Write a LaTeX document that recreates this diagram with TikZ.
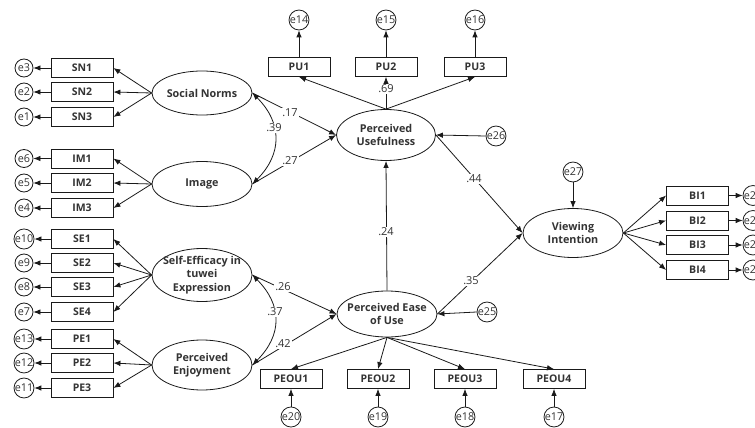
\documentclass[tikz,border=0pt]{standalone}
\usepackage{fontspec}
\setmainfont{Open Sans}
\usetikzlibrary{shapes.geometric,arrows.meta}
\definecolor{txt}{HTML}{333333}
\definecolor{ln}{HTML}{1A1A1A}
\begin{document}
\begin{tikzpicture}[x=1pt,y=-1pt,
  lat/.style={draw=ln, line width=0.8pt, ellipse, minimum width=100pt, minimum height=48pt, inner sep=0pt},
  lt/.style={inner sep=0pt, align=center, font=\fontsize{10.8}{13.2}\selectfont\bfseries, text=txt},
  obs/.style={draw=ln, line width=0.8pt, rectangle, minimum width=62pt, minimum height=19pt, inner sep=0pt, font=\fontsize{10.5}{12}\selectfont\bfseries, text=txt},
  err/.style={draw=ln, line width=0.8pt, circle, minimum size=18pt, inner sep=0pt, font=\fontsize{10.8}{11}\selectfont, text=txt},
  coef/.style={fill=white, inner sep=1pt, font=\fontsize{11}{12}\selectfont, text=txt},
  arr/.style={draw=ln, line width=0.8pt, -{Latex[length=7pt,width=5.5pt]}},
  dbl/.style={draw=ln, line width=0.8pt, {Latex[length=7pt,width=5.5pt]}-{Latex[length=7pt,width=5.5pt]}}
]
\useasboundingbox (0,0) rectangle (755,428);

% latent variables
\node[lat, minimum height=44pt] (sn) at (202,93) {};
\node[lt] (snt) at (sn) {Social Norms};
\node[lat, minimum height=45pt] (im) at (202,184) {};
\node[lt] (imt) at (im) {Image};
\node[lat, minimum height=53pt] (se) at (202,275) {};
\node[lt] (set) at (se) {Self-Efficacy in\\tuwei\\Expression};
\node[lat, minimum height=50pt] (pe) at (202,365) {};
\node[lt] (pet) at (pe) {Perceived\\Enjoyment};
\node[lat, minimum height=51pt, minimum width=99pt] (pu) at (386,135) {};
\node[lt] (put) at (pu) {Perceived\\Usefulness};
\node[lat, minimum height=46pt] (peou) at (387,314) {};
\node[lt] (peout) at (peou) {Perceived Ease\\of Use};
\node[lat, minimum height=49pt] (vi) at (573,233) {};
\node[lt] (vit) at (vi) {Viewing\\Intention};

% left indicators
\node[obs] (sn1) at (82,68) {SN1};
\node[obs] (sn2) at (82,92) {SN2};
\node[obs] (sn3) at (82,117) {SN3};
\node[obs] (im1) at (82,158.5) {IM1};
\node[obs] (im2) at (82,183) {IM2};
\node[obs] (im3) at (82,208) {IM3};
\node[obs] (se1) at (82,239) {SE1};
\node[obs] (se2) at (82,263) {SE2};
\node[obs] (se3) at (82,287) {SE3};
\node[obs] (se4) at (82,312) {SE4};
\node[obs] (pe1) at (82,339) {PE1};
\node[obs] (pe2) at (82,363) {PE2};
\node[obs] (pe3) at (82,388) {PE3};

\node[err] (e3) at (24,68) {e3};
\node[err] (e2) at (24,92) {e2};
\node[err] (e1) at (24,117) {e1};
\node[err] (e6) at (24,158.5) {e6};
\node[err] (e5) at (24,183) {e5};
\node[err] (e4) at (24,208) {e4};
\node[err] (e10) at (24,239) {e10};
\node[err] (e9) at (24,263) {e9};
\node[err] (e8) at (24,287) {e8};
\node[err] (e7) at (24,312) {e7};
\node[err] (e13) at (24,339) {e13};
\node[err] (e12) at (24,363) {e12};
\node[err] (e11) at (24,388) {e11};

% PU indicators
\node[obs] (pu1) at (299,67) {PU1};
\node[obs] (pu2) at (386,67) {PU2};
\node[obs] (pu3) at (475,67) {PU3};
\node[err] (e14) at (299,20) {e14};
\node[err] (e15) at (386,20) {e15};
\node[err] (e16) at (475,20) {e16};
\node[err] (e26) at (496,136) {e26};

% PEOU indicators
\node[obs] (peou1) at (291,379) {PEOU1};
\node[obs] (peou2) at (378,379) {PEOU2};
\node[obs] (peou3) at (465,379) {PEOU3};
\node[obs] (peou4) at (554,379) {PEOU4};
\node[err] (e20) at (291,417) {e20};
\node[err] (e19) at (378,417) {e19};
\node[err] (e18) at (465,417) {e18};
\node[err] (e17) at (554,417) {e17};
\node[err] (e25) at (487,312) {e25};

% VI indicators
\node[err] (e27) at (573,172) {e27};
\node[obs] (bi1) at (697.5,195.5) {BI1};
\node[obs] (bi2) at (697.5,220.5) {BI2};
\node[obs] (bi3) at (697.5,245) {BI3};
\node[obs] (bi4) at (697.5,270) {BI4};
\node[err] (e21) at (753,195.5) {e21};
\node[err] (e22) at (753,220.5) {e22};
\node[err] (e23) at (753,245) {e23};
\node[err] (e24) at (753,270) {e24};

% measurement arrows (left)
\foreach \l/\o/\e in {sn/sn1/e3, sn/sn2/e2, sn/sn3/e1, im/im1/e6, im/im2/e5, im/im3/e4,
  se/se1/e10, se/se2/e9, se/se3/e8, se/se4/e7, pe/pe1/e13, pe/pe2/e12, pe/pe3/e11} {
  \draw[arr] (\l.west) -- (\o.east);
  \draw[arr] (\o.west) -- (\e.east);
}
% PU
\foreach \o/\e in {pu1/e14, pu2/e15, pu3/e16} {
  \draw[arr] (pu.north) -- (\o.south);
  \draw[arr] (\o.north) -- (\e.south);
}
\draw[arr] (e26.west) -- (pu.east);
% PEOU
\foreach \o/\e in {peou1/e20, peou2/e19, peou3/e18, peou4/e17} {
  \draw[arr] (peou.south) -- (\o.north);
  \draw[arr] (\e.north) -- (\o.south);
}
\draw[arr] (e25.west) -- (peou.east);
% VI
\foreach \o/\e in {bi1/e21, bi2/e22, bi3/e23, bi4/e24} {
  \draw[arr] (vi.east) -- (\o.west);
  \draw[arr] (\o.east) -- (\e.west);
}
\draw[arr] (e27.south) -- (vi.north);

% structural paths
\draw[arr] (sn.east) -- (pu.west);
\draw[arr] (im.east) -- (pu.west);
\draw[arr] (se.east) -- (peou.west);
\draw[arr] (pe.east) -- (peou.west);
\draw[arr] (peou.north) -- (pu.south);
\draw[arr] (pu.east) -- (vi.west);
\draw[arr] (peou.east) -- (vi.west);

% correlations
\draw[dbl] (sn.east) .. controls +(30,30) and +(30,-30) .. (im.east);
\draw[dbl] (se.east) .. controls +(30,30) and +(30,-30) .. (pe.east);

% coefficients
\node[coef] (c17) at (290,113) {.17};
\node[coef] (c27) at (290,161) {.27};
\node[coef] (c39) at (274,128) {.39};
\node[coef] (c26) at (283,287) {.26};
\node[coef] (c37) at (275,312) {.37};
\node[coef] (c42) at (283,344) {.42};
\node[coef] (c69) at (386,89) {.69};
\node[coef] (c24) at (386,232) {.24};
\node[coef] (c44) at (474,179) {.44};
\node[coef] (c35) at (471,281) {.35};
\end{tikzpicture}
\end{document}
